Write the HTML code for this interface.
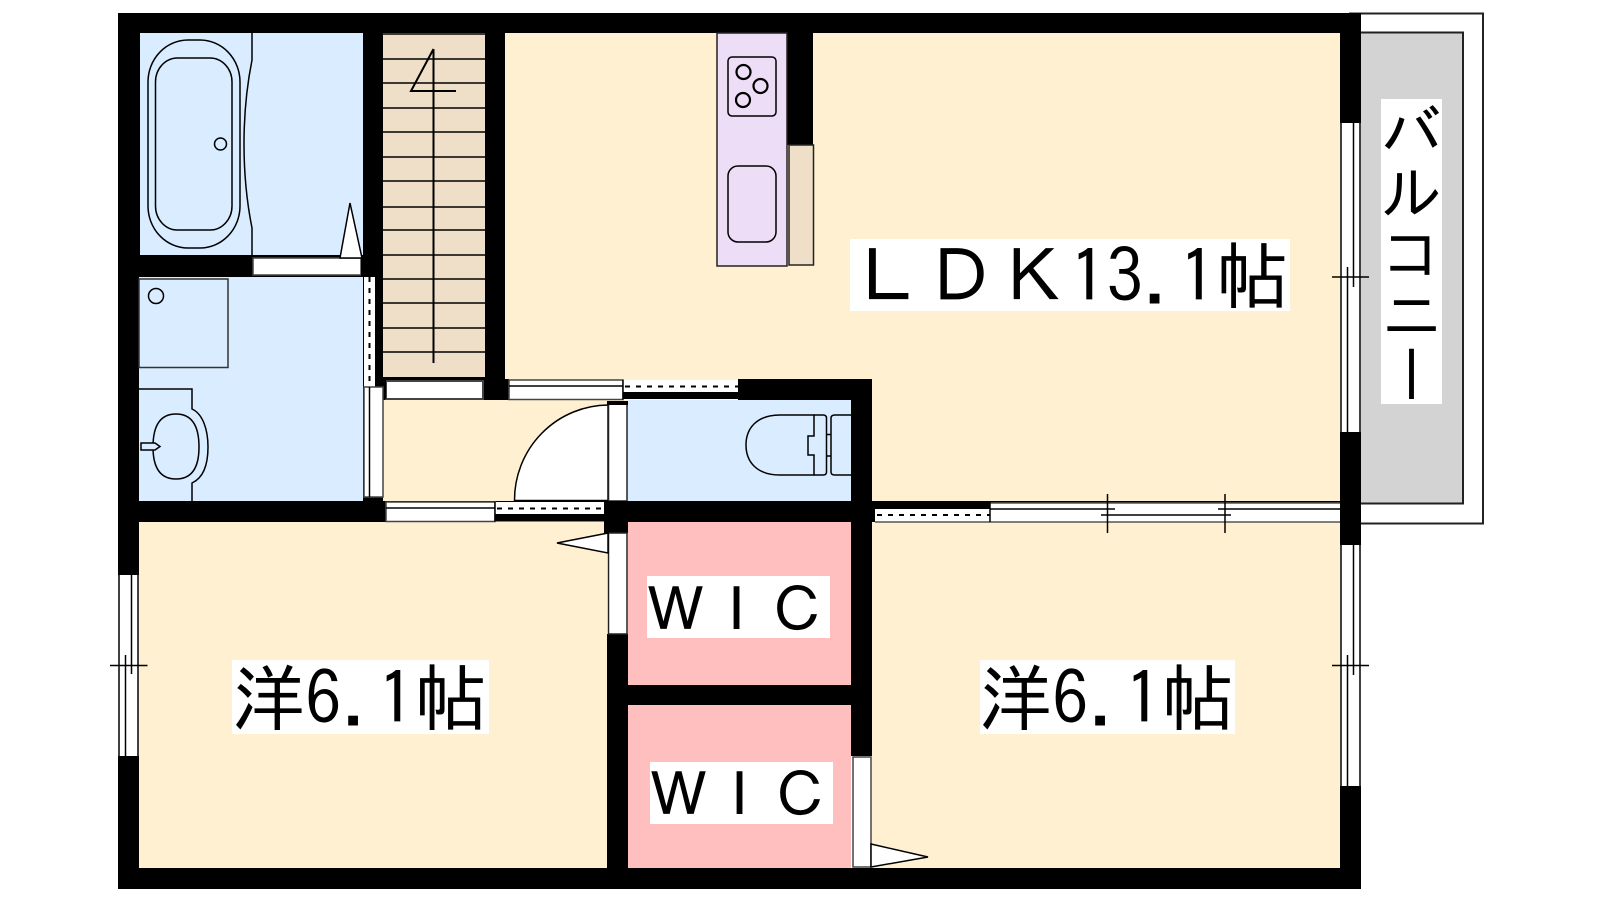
<!DOCTYPE html>
<html><head><meta charset="utf-8"><style>
html,body{margin:0;padding:0;background:#fff}
svg{display:block}
text{font-family:"IPAGothic","Noto Sans CJK JP",sans-serif;fill:#000}
.l{stroke:#000;stroke-width:1.5;fill:none}
.g{stroke:#555;stroke-width:1.5;fill:none}
.w{fill:#fff;stroke:#000;stroke-width:1.5}
.d{stroke:#000;stroke-width:2;stroke-dasharray:5 6;fill:none}
</style></head><body>
<svg width="1600" height="900" viewBox="0 0 1600 900" xmlns="http://www.w3.org/2000/svg">
<!-- balcony -->
<rect x="1350" y="13.5" width="133" height="510" fill="#fff" stroke="#222" stroke-width="2"/>
<rect x="1355" y="32.5" width="108" height="471" fill="#d3d3d3" stroke="#222" stroke-width="2"/>
<rect x="1381" y="99" width="61" height="305" fill="#fff"/>
<text x="1411.5" y="100" font-size="61" style="writing-mode:vertical-rl;text-orientation:upright">バルコニー</text>
<!-- floors -->
<rect x="118" y="13" width="1243" height="876" fill="#000"/>
<rect x="505" y="33" width="835" height="468" fill="#fef0d0"/>
<rect x="383" y="400" width="226" height="101" fill="#fef0d0"/>
<rect x="139" y="522" width="468" height="346" fill="#fef0d0"/>
<rect x="872" y="522" width="468" height="346" fill="#fef0d0"/>
<rect x="140" y="33" width="223" height="222" fill="#daecff"/>
<rect x="139" y="277" width="224" height="224" fill="#daecff"/>
<rect x="627" y="400" width="224" height="101" fill="#daecff"/>
<rect x="628" y="522" width="223" height="163" fill="#ffbfbf"/>
<rect x="628" y="705" width="223" height="163" fill="#ffbfbf"/>
<rect x="383" y="33" width="102" height="344" fill="#efdfc8"/>
<!-- walls over floors -->
<rect x="738" y="379" width="134" height="21" fill="#000"/>
<rect x="851" y="379" width="21" height="122" fill="#000"/>
<rect x="485" y="33" width="20" height="367" fill="#000"/>
<rect x="483" y="379" width="26" height="21" fill="#000"/>
<rect x="787" y="33" width="26" height="112" fill="#000"/>
<!-- stairs -->
<g class="l" stroke-width="1.5">
<path d="M383 34H485M383 59H485M383 83H485M383 108H485M383 132H485M383 157H485M383 181H485M383 207H485M383 230H485M383 255H485M383 279H485M383 303H485M383 328H485M383 352H485"/>
<path d="M433.5 49V363M433.5 49L411 91H456" stroke-width="2"/>
</g>
<!-- bath -->
<g class="l" stroke-width="2">
<rect x="148" y="40" width="92" height="208" rx="40" ry="42"/>
<rect x="155.5" y="58" width="76.500" height="172" rx="22" ry="24"/>
<circle cx="220.500" cy="144" r="6"/>
<path d="M252 33V60Q244 100 244 144Q244 188 252 228V255"/>
</g>
<!-- bath door -->
<rect x="253" y="258" width="108" height="17" fill="#fff" stroke="#444" stroke-width="1.500"/>
<path d="M340 258L350 203L362 258Z" class="w" stroke-width="2"/>
<rect x="361" y="255" width="22" height="21" fill="#000"/>
<!-- washer -->
<rect x="139" y="279" width="89" height="88.500" fill="none" stroke="#333" stroke-width="1.500"/>
<circle cx="156" cy="296" r="7.500" class="l" stroke-width="2"/>
<!-- sink -->
<g class="l" stroke-width="1.800">
<path d="M139 389H192V409C203 414 208 430 208 447C208 465 203 478 192 483V501"/>
<path d="M153 447C153 426 160 414 176 414C192 414 199 426 199 447C199 467 192 479 176 479C160 479 153 467 153 447Z"/>
<path d="M141 443H155L160 446.500L155 450H141Z" fill="#daecff"/>
</g>
<!-- wash room right doors -->
<rect x="364" y="277" width="11" height="110" fill="#fff"/>
<rect x="375" y="277" width="8" height="110" fill="#000"/>
<path d="M369.500 277V387" class="d"/>
<rect x="364" y="387" width="19" height="110" fill="#fff" stroke="#444" stroke-width="1.500"/>
<path d="M369.500 387V497" class="l"/>
<!-- stair bottom door -->
<rect x="386" y="381" width="97" height="18" fill="#fff" stroke="#444" stroke-width="2"/>
<rect x="384" y="378" width="2" height="21" fill="#000"/>
<path d="M384 378H483" class="l" stroke-width="1"/>
<!-- LDK/toilet doors -->
<rect x="509" y="380" width="114" height="19.500" fill="#fff" stroke="#444" stroke-width="1.500"/>
<path d="M509 386H623" class="l"/>
<rect x="623" y="380" width="115" height="19.500" fill="#fff"/>
<rect x="623" y="392" width="115" height="7" fill="#000"/>
<path d="M623 380V399.500" class="l"/>
<path d="M625 386.500H738" class="d"/>
<!-- hall lower doors -->
<rect x="386" y="502" width="109" height="19.500" fill="#fff" stroke="#444" stroke-width="1.500"/>
<path d="M386 508H495" class="l"/>
<rect x="495" y="502" width="109" height="19.500" fill="#fff"/>
<rect x="495" y="514" width="109" height="7" fill="#000"/>
<path d="M495 502V521.500" class="l"/>
<path d="M497 508.500H604" class="d"/>
<!-- toilet door + swing -->
<path d="M514.500 500.500A94 95 0 0 1 608 405V500.500Z" class="w" stroke-width="2"/>
<rect x="608.500" y="404" width="18.500" height="97" fill="#fff" stroke="#222" stroke-width="1.500"/>
<rect x="607" y="401" width="21" height="4" fill="#000"/>
<!-- walls centre -->
<rect x="604" y="501" width="268" height="21" fill="#000"/>
<rect x="604" y="501" width="24" height="32" fill="#000"/>
<rect x="607" y="634" width="21" height="234" fill="#000"/>
<rect x="607" y="533" width="21" height="101" fill="#fff"/>
<rect x="608.500" y="533" width="18.500" height="101" fill="#fff" stroke="#222" stroke-width="1.500"/>
<path d="M608 533L557 543L608 553Z" class="w" stroke-width="2"/>
<rect x="607" y="685" width="265" height="20" fill="#000"/>
<rect x="851" y="522" width="21" height="234" fill="#000"/>
<!-- WIC door -->
<rect x="851" y="756" width="21" height="112" fill="#fff"/>
<rect x="853" y="757" width="18" height="110" fill="#fff" stroke="#444" stroke-width="1.500"/>
<path d="M871 844L928 857L871 867Z" class="w" stroke-width="2"/>
<!-- toilet -->
<g class="l" stroke-width="1.500">
<path d="M814 415H780C757 415 746 428 746 445C746 462 757 475 780 475H814V455H808V436H814Z"/>
<path d="M814 415H823Q826.500 415 826.500 418V472Q826.500 475 823 475H814"/>
<path d="M826.500 434.500H831M826.500 456H831"/>
<path d="M851 415H835Q831 415 831 418V472Q831 475 835 475H851"/>
</g>
<!-- kitchen -->
<rect x="717" y="33" width="70" height="233" fill="#eeddf6" stroke="#222" stroke-width="1.500"/>
<rect x="789" y="145" width="24.500" height="120" fill="#efdfc8" stroke="#222" stroke-width="1.500"/>
<g class="l" stroke-width="1.800">
<rect x="728" y="57" width="48" height="59" rx="4"/>
<rect x="728" y="166" width="48" height="76" rx="10"/>
<circle cx="743.500" cy="72" r="7" stroke-width="2.200"/><circle cx="760.500" cy="86" r="7" stroke-width="2.200"/><circle cx="743" cy="100" r="7" stroke-width="2.200"/>
</g>
<!-- right horizontal door -->
<rect x="875" y="502" width="115" height="20" fill="#fff"/>
<rect x="875" y="502" width="115" height="7" fill="#000"/>
<path d="M877 515H990" class="d"/>
<rect x="990" y="503" width="350" height="19" fill="#fff"/>
<g class="g" stroke-width="1.500"><path d="M875 522H1340M990 503H1340"/></g>
<g class="l" stroke-width="1.500">
<path d="M990 502V522M990 509H1115M1218 509H1340M1101 515H1231M1107.500 494V533M1225 494V533"/>
</g>
<rect x="1340" y="33" width="21" height="490" fill="#000"/>
<!-- left window -->
<rect x="118" y="575" width="21" height="181" fill="#fff"/>
<g class="l" stroke-width="1.300">
<path d="M119 575V756M125.500 655V756M131.500 575V674M138 575V756"/>
<path d="M110 665.500H147.500"/>
</g>
<!-- right windows -->
<rect x="1340" y="123" width="21" height="309" fill="#fff"/>
<g class="l" stroke-width="1.300">
<path d="M1341 123V432M1347.500 267V432M1353.500 123V287M1360 123V432"/>
<path d="M1332 277H1369"/>
</g>
<rect x="1340" y="545" width="21" height="241" fill="#fff"/>
<g class="l" stroke-width="1.300">
<path d="M1341 545V786M1347.500 655V786M1353.500 545V675M1360 545V786"/>
<path d="M1332 665.500H1369"/>
</g>
<!-- labels -->
<rect x="850" y="239" width="440" height="72" fill="#fff"/>
<text x="851" y="303" font-size="73">ＬＤＫ13.1帖</text>
<rect x="232" y="660" width="257" height="74" fill="#fff"/>
<text x="232" y="725" font-size="73">洋6.1帖</text>
<rect x="980" y="660" width="255" height="74" fill="#fff"/>
<text x="979" y="725" font-size="73">洋6.1帖</text>
<rect x="647" y="576" width="183" height="62" fill="#fff"/>
<text x="645" y="632" font-size="61">ＷＩＣ</text>
<rect x="650" y="762" width="183" height="62" fill="#fff"/>
<text x="648" y="817" font-size="61">ＷＩＣ</text>
</svg>
</body></html>
